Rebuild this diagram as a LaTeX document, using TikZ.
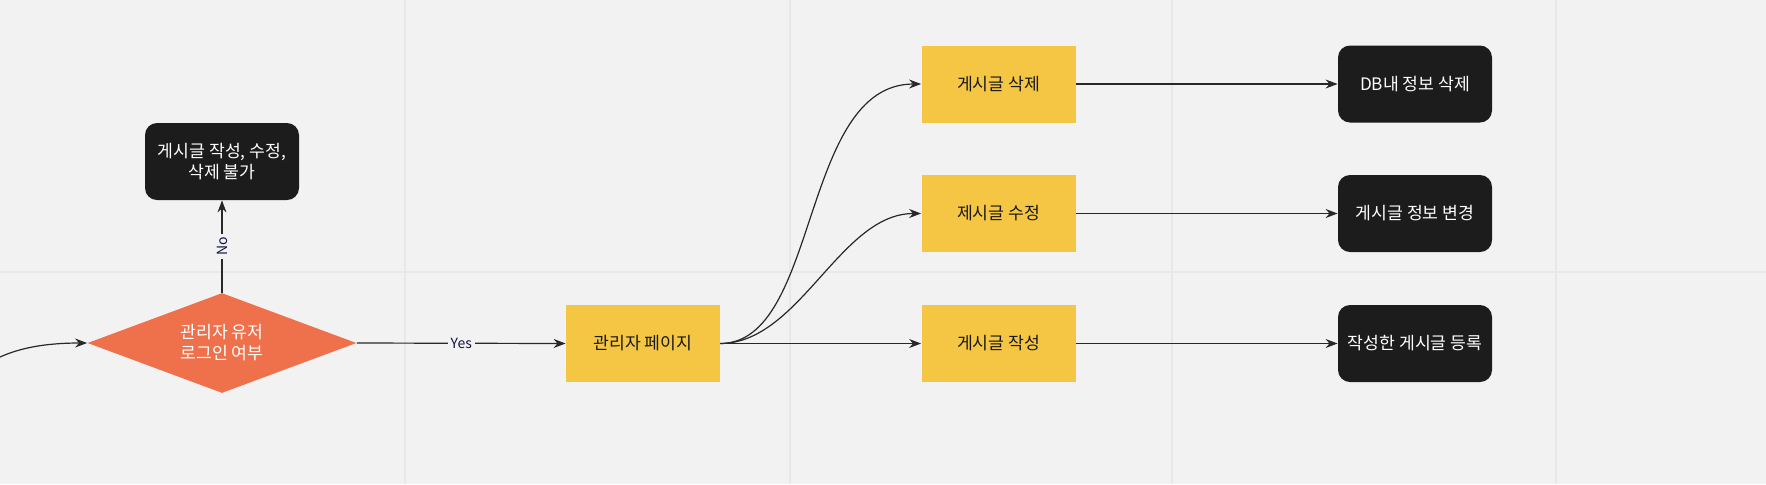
\documentclass[tikz,border=0pt]{standalone}
\usepackage{fontspec}
\setmainfont{Noto Sans CJK KR}
\usetikzlibrary{shapes.geometric,arrows.meta}
\definecolor{bg}{RGB}{242,242,242}
\definecolor{yel}{RGB}{245,198,68}
\definecolor{blk}{RGB}{28,28,28}
\definecolor{org}{RGB}{238,113,75}
\definecolor{ln}{RGB}{40,40,40}
\definecolor{lt}{RGB}{20,20,70}
\begin{document}
\begin{tikzpicture}[x=0.5pt,y=-0.5pt,
  ybox/.style={fill=yel, minimum width=77pt, minimum height=38.5pt, inner sep=0pt, font=\fontsize{8.6}{10.5}\selectfont, text=black!90},
  kbox/.style={fill=blk, rounded corners=6pt, minimum width=77pt, minimum height=38.5pt, inner sep=0pt, font=\fontsize{8.6}{10.5}\selectfont, text=white, align=center},
  arr/.style={draw=ln, line width=0.6pt, -{Stealth[length=6pt,width=4.5pt]}},
  lbl/.style={fill=bg, font=\fontsize{7}{8}\selectfont, text=lt, inner sep=1.5pt}]
\fill[bg] (0,0) rectangle (1766,484);
\useasboundingbox (0,0) rectangle (1766,484);
\foreach \x in {24,110,...,1766} \draw[black!5, line width=0.5pt] (\x,0) -- (\x,484);
\foreach \y in {47,133,...,484} \draw[black!5, line width=0.5pt] (0,\y) -- (1766,\y);
\foreach \x in {405,790,1172,1556} \draw[black!9, line width=0.8pt] (\x,0) -- (\x,484);
\draw[black!9, line width=0.8pt] (0,272) -- (1766,272);

\node[diamond, fill=org, minimum width=134.5pt, minimum height=50pt, aspect=2.69, inner sep=0pt, text=white, align=center, font=\fontsize{8.6}{10.5}\selectfont] (d) at (222,343) {관리자 유저\\로그인 여부};
\node[kbox] (no) at (222,161.5) {게시글 작성, 수정,\\삭제 불가};
\node[ybox] (adm) at (643,343.5) {관리자 페이지};
\node[ybox] (y1) at (998.5,84) {게시글 삭제};
\node[ybox] (y2) at (998.5,213.5) {제시글 수정};
\node[ybox] (y3) at (998.5,343.5) {게시글 작성};
\node[kbox] (k1) at (1415,84) {DB내 정보 삭제};
\node[kbox] (k2) at (1415,213.5) {게시글 정보 변경};
\node[kbox] (k3) at (1415,343.5) {작성한 게시글 등록};
\coordinate (in) at (0,357);

\draw[arr] (in) .. controls (20,348) and (45,343) .. (d.west);
\draw[arr] (d.north) -- node[lbl, rotate=90] {No} (no.south);
\draw[arr] (d.east) -- node[lbl] {Yes} (adm.west);
\draw[arr] (adm.east) .. controls (820,343) and (800,84) .. (y1.west);
\draw[arr] (adm.east) .. controls (800,343) and (840,213.5) .. (y2.west);
\draw[arr] (adm.east) -- (y3.west);
\draw[arr] (y1) -- (k1);
\draw[arr] (y2) -- (k2);
\draw[arr] (y3) -- (k3);
\end{tikzpicture}
\end{document}
